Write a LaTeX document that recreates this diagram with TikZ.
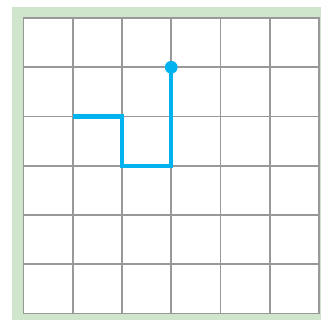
\documentclass[tikz,border=0pt]{standalone}
\usepackage{tikz}
\usetikzlibrary{positioning}
\definecolor{paper}{HTML}{CFE6CC}
\definecolor{gridgray}{HTML}{999999}
\definecolor{pathblue}{HTML}{00B2EE}
\begin{document}
\begin{tikzpicture}[
        gridline/.style={draw=gridgray, line width=1.1pt},
        walk/.style={draw=pathblue, line width=2.6pt},
        enddot/.style={circle, fill=pathblue, inner sep=0pt, minimum size=0.26cm}
    ]
        % Frame
        \useasboundingbox (-0.477,-0.132) rectangle (6.041,6.366);
        \fill[paper] (-0.234,-0.132) rectangle (6.041,6.223);
        \fill[white] (0,0) rectangle (6,6);

        % Grid
        \draw[gridline] (0,0) grid (6,6);
        \draw[gridline] (0,0) rectangle (6,6);

        % Path points
        \coordinate (start) at (1,4);
        \coordinate (turnA) at (2,4);
        \coordinate (turnB) at (2,3);
        \coordinate (turnC) at (3,3);
        \node[enddot] (finish) at (3,5) {};

        % Path
        \draw[walk, line join=miter] (start) -- (turnA) -- (turnB) -- (turnC) -- (finish.center);
    \end{tikzpicture}
\end{document}
